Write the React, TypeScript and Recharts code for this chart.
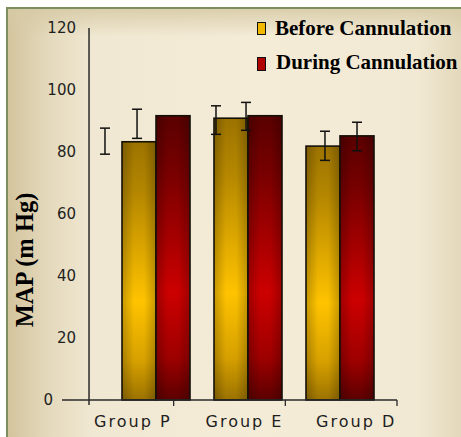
import React from 'react';
import {
  ComposedChart,
  Bar,
  Scatter,
  ErrorBar,
  XAxis,
  YAxis,
  Legend,
  ReferenceLine,
} from 'recharts';

// ---- data ----
const groups = ['Group P', 'Group E', 'Group D'];
const beforeValues = [83.3, 90.9, 81.9];
const duringValues = [91.7, 91.7, 85.2];

// error bars (drawn slightly offset from their bars, as in the reference)
const beforeErrX = [0.385, 1.379, 2.355];
const beforeErrMean = [83.5, 90.3, 82.0];
const beforeErrDelta = [4.2, 4.6, 4.7];
const duringErrX = [0.672, 1.648, 2.642];
const duringErrMean = [89.1, 91.5, 85.0];
const duringErrDelta = [4.7, 4.5, 4.6];

const yTicks = [0, 20, 40, 60, 80, 100, 120];
const xMarks = [0.5, 1, 1.5, 2, 2.5, 3];
const yAxisLineAt = 0.242;

const seriesNames = ['Before Cannulation', 'During Cannulation'];

const chartData = groups.map((g, i) => ({
  group: g,
  before: beforeValues[i],
  during: duringValues[i],
}));
const beforeErr = beforeErrX.map((x, i) => ({ ex: x, ey: beforeErrMean[i], ed: beforeErrDelta[i] }));
const duringErr = duringErrX.map((x, i) => ({ ex: x, ey: duringErrMean[i], ed: duringErrDelta[i] }));

const makeBar = (grad: string) => (props: any) => {
  const { x, y, width, height } = props;
  if (width == null || height == null) return <g />;
  return (
    <g>
      <rect x={x} y={y} width={width} height={height} fill={`url(#${grad})`} />
      <rect x={x} y={y} width={width} height={height} fill="url(#hshade)" />
      <rect x={x} y={y} width={width} height={height} fill="none" stroke="#141008" strokeWidth={1.6} />
    </g>
  );
};

const XTick = (props: any) => {
  const { x, y, payload } = props;
  const v = payload.value;
  if (Number.isInteger(v)) {
    return <line x1={x} x2={x} y1={y} y2={y + 6} stroke="#2a2a2a" strokeWidth={1.3} />;
  }
  return (
    <text
      x={x + 15}
      y={y + 27}
      textAnchor="middle"
      fontFamily="DejaVu Sans"
      fontSize={16}
      letterSpacing={2}
      fill="#1e1e1e"
    >
      {groups[Math.floor(v)]}
    </text>
  );
};

const YTick = (props: any) => {
  const { x, y, payload } = props;
  const v = payload.value;
  return (
    <text
      x={v === 0 ? x - 9 : x + 14}
      y={y}
      dy="0.36em"
      textAnchor="end"
      fontFamily="DejaVu Sans"
      fontSize={15}
      fill="#1e1e1e"
    >
      {v}
    </text>
  );
};

const legendText: React.CSSProperties = {
  position: 'absolute',
  fontFamily: '"Liberation Serif", "Times New Roman", serif',
  fontWeight: 'bold',
  fontSize: 21,
  lineHeight: '21px',
  color: '#000',
  whiteSpace: 'nowrap',
};

const renderLegend = () => (
  <div style={{ position: 'relative', width: 200, height: 72 }}>
    <div style={{ position: 'absolute', left: 2, top: 6, width: 7, height: 11, background: '#f2b800', border: '1px solid #111' }} />
    <div style={{ ...legendText, left: 20, top: 2.4 }}>{seriesNames[0]}</div>
    <div style={{ position: 'absolute', left: 2, top: 41, width: 7, height: 12, background: '#b00000', border: '1px solid #111' }} />
    <div style={{ ...legendText, left: 21, top: 36.4 }}>{seriesNames[1]}</div>
  </div>
);

export default function App() {
  return (
    <div style={{ position: 'absolute', left: 0, top: 0, width: 461, height: 437, overflow: 'hidden', background: '#ffffff' }}>
      <div
        style={{
          position: 'absolute',
          left: 6,
          top: 7,
          width: 455,
          height: 430,
          borderTop: '2px solid #7d8f5f',
          borderLeft: '2px solid #7d8f5f',
          background:
            'linear-gradient(to bottom, rgba(214,202,165,0.85) 0px, rgba(214,202,165,0) 28px), linear-gradient(to right, #d3c49d 0px, #e4d9bc 40px, #f0e8d2 85px, #f5ecd8 55%, #f1e9d3 90%, #e2d7b9 100%)',
        }}
      />
      <div style={{ position: 'absolute', left: 0, top: 0 }}>
        <ComposedChart
          width={461}
          height={437}
          data={chartData}
          margin={{ top: 28, right: 64, bottom: 7, left: 0 }}
          barGap={0}
          barCategoryGap={12}
        >
          <defs>
            <linearGradient id="gGold" x1="0" y1="0" x2="0" y2="1">
              <stop offset="0" stopColor="#9c7300" />
              <stop offset="0.2" stopColor="#b58700" />
              <stop offset="0.62" stopColor="#ffc300" />
              <stop offset="0.85" stopColor="#d6a000" />
              <stop offset="1" stopColor="#9b7200" />
            </linearGradient>
            <linearGradient id="gRed" x1="0" y1="0" x2="0" y2="1">
              <stop offset="0" stopColor="#5a0000" />
              <stop offset="0.2" stopColor="#780000" />
              <stop offset="0.62" stopColor="#cc0000" />
              <stop offset="0.85" stopColor="#9e0000" />
              <stop offset="1" stopColor="#5c0000" />
            </linearGradient>
            <linearGradient id="hshade" x1="0" y1="0" x2="1" y2="0">
              <stop offset="0" stopColor="#000" stopOpacity="0.22" />
              <stop offset="0.35" stopColor="#000" stopOpacity="0" />
              <stop offset="0.65" stopColor="#000" stopOpacity="0" />
              <stop offset="1" stopColor="#000" stopOpacity="0.22" />
            </linearGradient>
          </defs>
          <XAxis
            xAxisId="num"
            type="number"
            dataKey="ex"
            domain={[0, 3]}
            ticks={xMarks}
            interval={0}
            allowDataOverflow
            tickSize={0}
            tickMargin={0}
            tickLine={false}
            axisLine={{ stroke: '#2a2a2a', strokeWidth: 1.5 }}
            height={30}
            tick={XTick}
          />
          <XAxis xAxisId="cat" dataKey="group" hide height={0} padding={{ left: 48, right: 11 }} />
          <YAxis
            domain={[0, 120]}
            ticks={yTicks}
            interval={0}
            width={62}
            axisLine={false}
            tickLine={false}
            tickSize={0}
            tickMargin={0}
            tick={YTick}
            label={{
              content: () => (
                <text
                  transform="translate(33,260) rotate(-90)"
                  textAnchor="middle"
                  fontFamily='"Liberation Serif", "Times New Roman", serif'
                  fontWeight="bold"
                  fontSize={24.5}
                  fill="#000"
                >
                  MAP (m Hg)
                </text>
              ),
            }}
          />
          <ReferenceLine
            xAxisId="num"
            segment={[
              { x: yAxisLineAt, y: -1.6 },
              { x: yAxisLineAt, y: 120 },
            ]}
            stroke="#2a2a2a"
            strokeWidth={1.5}
            ifOverflow="visible"
          />
          <Bar xAxisId="cat" dataKey="before" name={seriesNames[0]} shape={makeBar('gGold')} isAnimationActive={false} />
          <Bar xAxisId="cat" dataKey="during" name={seriesNames[1]} shape={makeBar('gRed')} isAnimationActive={false} />
          <Scatter xAxisId="num" data={beforeErr} dataKey="ey" shape={() => <g />} isAnimationActive={false}>
            <ErrorBar dataKey="ed" direction="y" width={5} stroke="#111" strokeWidth={1.5} isAnimationActive={false} />
          </Scatter>
          <Scatter xAxisId="num" data={duringErr} dataKey="ey" shape={() => <g />} isAnimationActive={false}>
            <ErrorBar dataKey="ed" direction="y" width={5} stroke="#111" strokeWidth={1.5} isAnimationActive={false} />
          </Scatter>
          <Legend
            layout="vertical"
            align="center"
            verticalAlign="middle"
            wrapperStyle={{ position: 'absolute', left: 255, top: 16, width: 200 }}
            content={renderLegend}
          />
        </ComposedChart>
      </div>
    </div>
  );
}
